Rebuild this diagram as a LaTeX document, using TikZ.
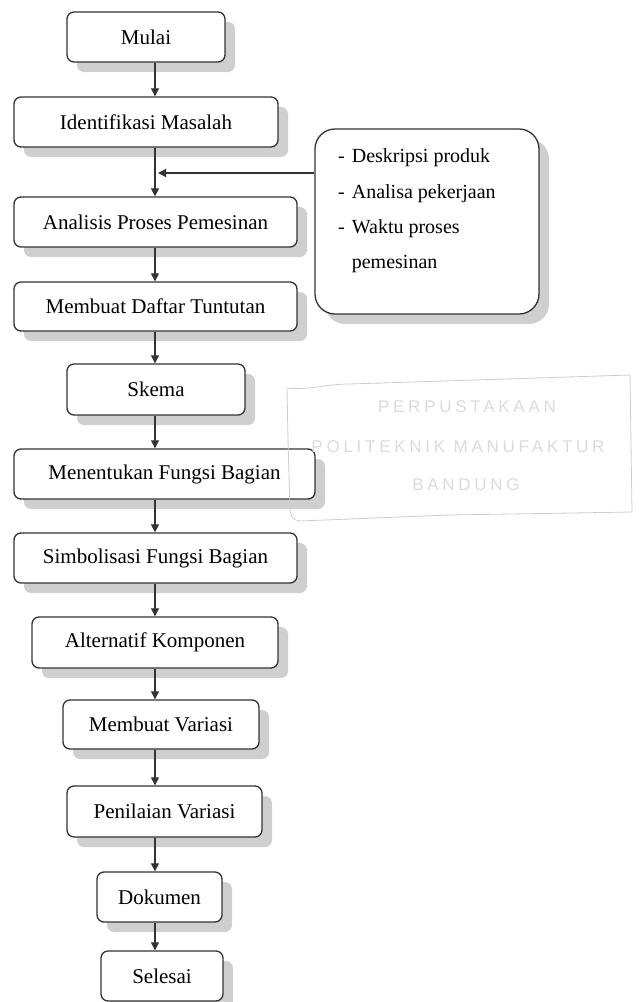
\documentclass[tikz,border=0pt]{standalone}
\usepackage{fontspec}
\setmainfont{Liberation Serif}
\newfontfamily\stampfont[LetterSpace=22]{Liberation Sans}
\usetikzlibrary{shadows,arrows.meta}
\tikzset{
 box/.style={draw=black!80, line width=1.3pt, rounded corners=7pt, fill=white,
   minimum height=50pt, inner sep=0pt, font=\fontsize{21}{25}\selectfont,
   drop shadow={shadow xshift=10pt, shadow yshift=-10pt, fill=gray!38, opacity=1}},
 flow/.style={draw=black!80, line width=1.2pt, -{Triangle[length=8pt,width=8pt]}},
 stamptext/.style={text=gray!28, font=\stampfont\fontsize{17}{20}\selectfont, inner sep=0pt},
}
\begin{document}
\begin{tikzpicture}[x=1pt,y=-1pt]
\useasboundingbox (0,0) rectangle (641,1002);
\coordinate (spine) at (155,0);

\node[box, minimum width=158pt] (mulai) at (146,37) {Mulai};
\node[box, minimum width=264pt] (ident) at (146,122) {Identifikasi Masalah};
\node[box, minimum width=283pt] (anal) at (155.5,222) {Analisis Proses Pemesinan};
\node[box, minimum width=283pt, minimum height=49pt] (daftar) at (155.5,306.5) {Membuat Daftar Tuntutan};
\node[box, minimum width=178pt, minimum height=51pt] (skema) at (156,389.5) {Skema};
\node[box, minimum width=301pt] (fungsi) at (164.5,474) {Menentukan Fungsi Bagian};
\node[box, minimum width=283pt] (simbol) at (155.5,558) {Simbolisasi Fungsi Bagian};
\node[box, minimum width=246pt, minimum height=51pt] (altern) at (155,642.5) {Alternatif Komponen};
\node[box, minimum width=196pt, minimum height=49pt] (variasi) at (161,724.5) {Membuat Variasi};
\node[box, minimum width=195pt, minimum height=51pt] (nilai) at (164.5,811.5) {Penilaian Variasi};
\node[box, minimum width=125pt] (dok) at (159.5,897) {Dokumen};
\node[box, minimum width=122pt] (selesai) at (162,976) {Selesai};

\node[box, minimum width=224pt, minimum height=185pt, rounded corners=20pt] (side) at (427,221.5) {};
\node[anchor=north west, inner sep=0pt, font=\fontsize{20}{35.3}\selectfont] (sidetext) at (338,138)
 {\begin{tabular}{@{}l@{\hspace{7pt}}l@{}}-&Deskripsi produk\\-&Analisa pekerjaan\\-&Waktu proses\\&pemesinan\end{tabular}};

\foreach \a/\b in {mulai/ident, ident/anal, anal/daftar, daftar/skema, skema/fungsi, fungsi/simbol,
  simbol/altern, altern/variasi, variasi/nilai, nilai/dok, dok/selesai}
  \draw[flow] (\a.south -| spine) -- (\b.north -| spine);

\coordinate (join) at (158,173);
\draw[flow] (side.west |- join) -- (join);

% library stamp (faint, on top)
\draw[gray!40, line width=0.8pt] (287,388) to[out=-5,in=180] (350,384) -- (630,375) -- (632,512)
  -- (450,515) -- (300,521) to[out=180,in=-90] (290,510) -- (288,440) -- cycle;
\node[stamptext] (st1) at (467,407) {PERPUSTAKAAN};
\node[stamptext] (st2) at (458,447) {POLITEKNIK MANUFAKTUR};
\node[stamptext] (st3) at (466,485) {BANDUNG};
\end{tikzpicture}
\end{document}
